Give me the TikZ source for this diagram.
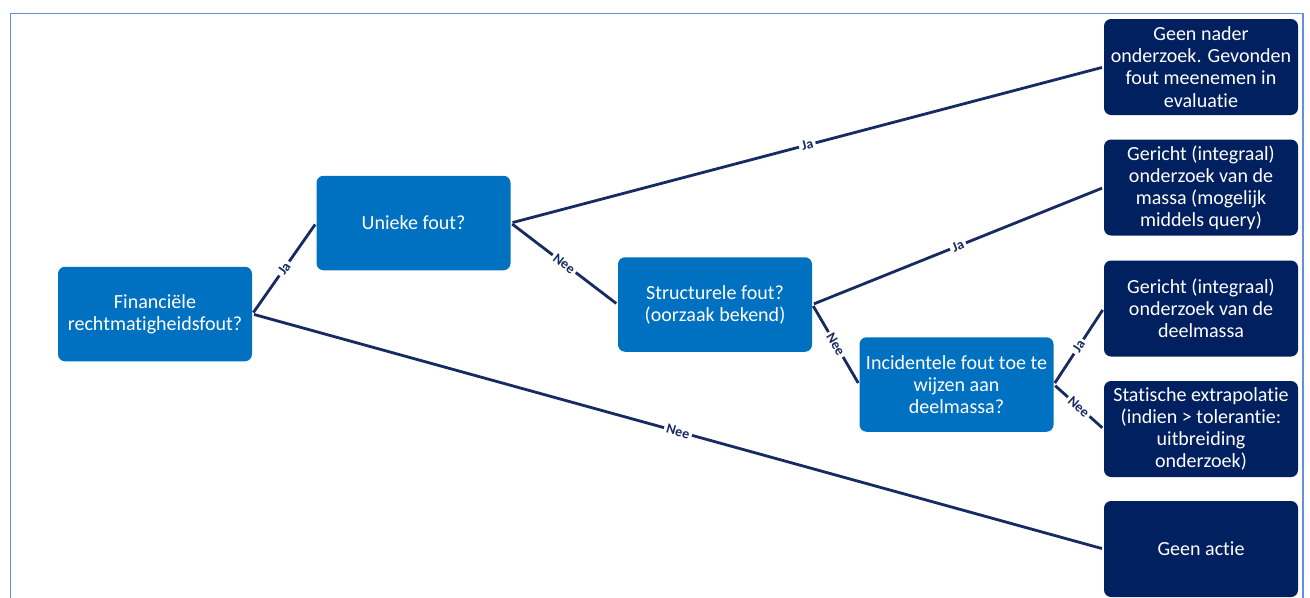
\documentclass[tikz,border=0pt]{standalone}
\usepackage{fontspec}
\setmainfont{Carlito}[Ligatures=NoCommon]
\usetikzlibrary{arrows}

\definecolor{midblue}{RGB}{0,112,192}
\definecolor{darkblue}{RGB}{0,32,96}
\definecolor{linenavy}{RGB}{24,42,98}
\definecolor{framblue}{RGB}{98,146,212}

\begin{document}
\begin{tikzpicture}
  [vraag/.style={rectangle,rounded corners=4pt,fill=midblue,text=white,
     minimum width=3.88cm,minimum height=1.89cm,inner sep=0pt,align=center,
     font=\fontsize{11.4}{12.6}\selectfont},
   actie/.style={vraag,fill=darkblue,minimum height=1.92cm},
   edge/.style={draw=linenavy,line width=1.6pt,shorten <=1pt,shorten >=1pt},
   lbl/.style={sloped,fill=white,inner sep=1.5pt,text=linenavy,
     font=\fontsize{8}{8}\selectfont\bfseries}]
  \useasboundingbox (0,0) rectangle (26.2,-11.94);
  \draw[framblue,line width=1.1pt] (0.21,-13) -- (0.21,-0.27) -- (26.06,-0.27) -- (26.06,-13);

  \node[vraag] (q1) at (3.10,-6.28)  {Financiële\\rechtmatigheidsfout?};
  \node[vraag] (q2) at (8.27,-4.46)  {Unieke fout?};
  \node[vraag] (q3) at (14.30,-6.09) {Structurele fout?\\(oorzaak bekend)};
  \node[vraag] (q4) at (19.13,-7.69) {Incidentele fout toe te\\wijzen aan\\deelmassa?};

  \node[actie] (a1) at (24.02,-1.34)  {Geen nader\\onderzoek. Gevonden\\fout meenemen in\\evaluatie};
  \node[actie] (a2) at (24.02,-3.75)  {Gericht (integraal)\\onderzoek van de\\massa (mogelijk\\middels query)};
  \node[actie] (a3) at (24.02,-6.17)  {Gericht (integraal)\\onderzoek van de\\deelmassa};
  \node[actie] (a4) at (24.02,-8.58)  {Statische extrapolatie\\(indien > tolerantie:\\uitbreiding\\onderzoek)};
  \node[actie] (a5) at (24.02,-10.98) {Geen actie};

\foreach \from/\to/\lab in
{q1/q2/Ja, q1/a5/Nee, q2/a1/Ja, q2/q3/Nee, q3/a2/Ja, q3/q4/Nee, q4/a3/Ja, q4/a4/Nee}
    \draw[edge] (\from.east) -- node[lbl] {\lab} (\to.west);
\end{tikzpicture}
\end{document}
